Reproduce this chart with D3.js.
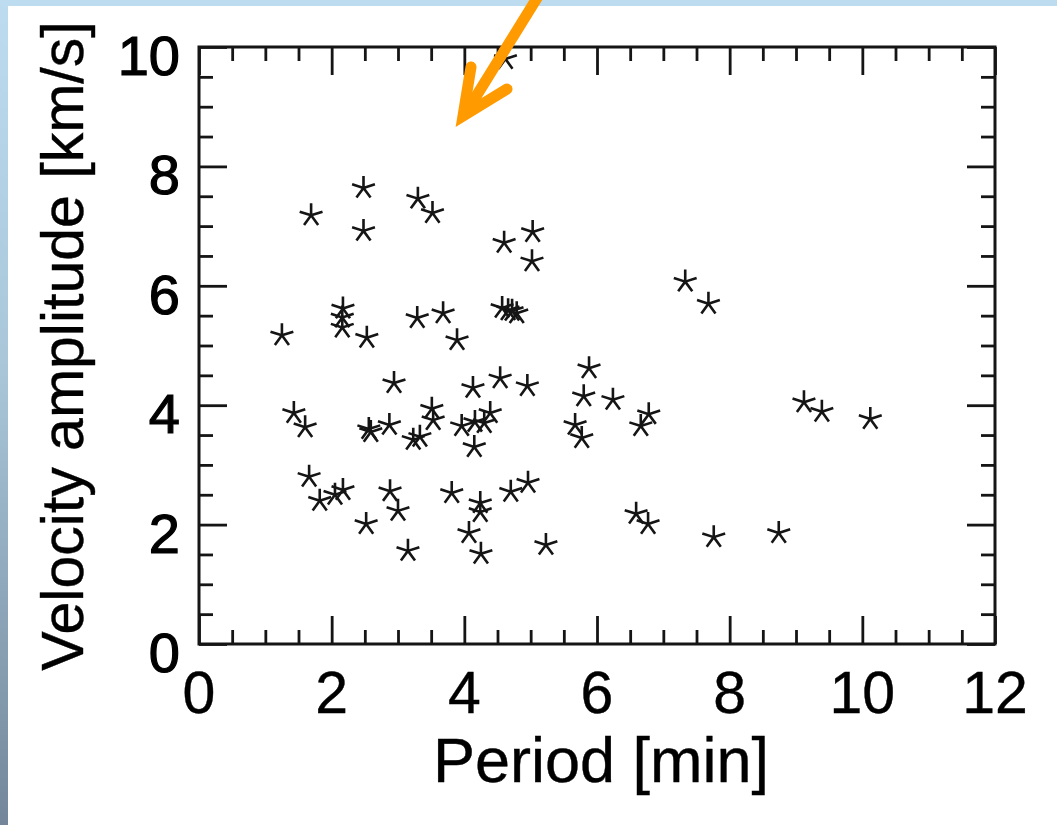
<!DOCTYPE html>
<html>
<head>
<meta charset="utf-8">
<script src="https://cdn.jsdelivr.net/npm/d3@7"></script>
<style>
  body { margin: 0; background: #fff; }
  svg { display: block; }
</style>
</head>
<body>
<div id="vis"></div>
<script>
// Datos: periodo [min] y amplitud de velocidad [km/s]
const periods = [
  1.25, 1.69, 2.48, 2.48, 3.30, 3.52, 4.60, 5.03, 5.02, 7.33, 7.68,
  2.17, 2.16, 2.16, 2.53, 3.29, 3.68, 3.89, 4.57, 4.66, 4.79, 4.72,
  2.94, 4.13, 4.54, 4.95, 5.88, 5.80,
  1.43, 1.60, 2.56, 2.59, 2.87, 3.23, 3.33, 3.51, 3.53, 3.96, 4.16, 4.30, 4.39, 4.15, 5.67, 5.77,
  1.66, 1.82, 2.05, 2.17, 2.88, 3.00, 2.52, 3.15, 3.81, 4.24, 4.24, 4.07, 4.25, 4.70, 4.96, 5.23,
  6.24, 6.66, 6.78, 6.59, 6.77, 7.76, 8.74, 9.12, 9.39, 10.12,
  4.62
];
const amplitudes = [
  5.17, 7.18, 7.64, 6.92, 7.46, 7.22, 6.72, 6.90, 6.41, 6.07, 5.70,
  5.62, 5.47, 5.30, 5.13, 5.46, 5.54, 5.09, 5.63, 5.59, 5.54, 5.58,
  4.37, 4.29, 4.45, 4.32, 4.62, 4.15,
  3.87, 3.63, 3.60, 3.55, 3.67, 3.42, 3.47, 3.94, 3.75, 3.65, 3.72, 3.70, 3.87, 3.30, 3.67, 3.45,
  2.80, 2.40, 2.50, 2.58, 2.56, 2.23, 2.01, 1.56, 2.53, 2.36, 2.21, 1.86, 1.51, 2.55, 2.70, 1.66,
  4.09, 3.65, 3.85, 2.18, 2.01, 1.79, 1.86, 4.05, 3.89, 3.77,
  9.80
];
const xTicks = [0, 2, 4, 6, 8, 10, 12];
const yTicks = [0, 2, 4, 6, 8, 10];
const xLabel = "Period [min]";
const yLabel = "Velocity amplitude [km/s]";

const data = periods.map((p, i) => ({ x: p, y: amplitudes[i] }));

// Tamaños
const WIDTH = 1057;
const HEIGHT = 825;
const plot = { left: 199, right: 995, top: 47, bottom: 644 };
const FONT = "'Liberation Sans', Arial, Helvetica, sans-serif";
const INK = "#151515";

const svg = d3.select("#vis").append("svg")
    .attr("width", WIDTH)
    .attr("height", HEIGHT);

// Fondo: banda celeste arriba y degradado a la izquierda
const defs = svg.append("defs");
const grad = defs.append("linearGradient")
    .attr("id", "sideGrad")
    .attr("x1", 0).attr("y1", 0).attr("x2", 0).attr("y2", 1);
grad.append("stop").attr("offset", "0%").attr("stop-color", "#bddcef");
grad.append("stop").attr("offset", "45%").attr("stop-color", "#a9c6d9");
grad.append("stop").attr("offset", "100%").attr("stop-color", "#74879a");

svg.append("rect").attr("x", 0).attr("y", 0).attr("width", WIDTH).attr("height", 6)
    .attr("fill", "#bddcef");
svg.append("rect").attr("x", 0).attr("y", 0).attr("width", 8).attr("height", HEIGHT)
    .attr("fill", "url(#sideGrad)");

// Escalas
const x = d3.scaleLinear().domain([0, 12]).range([plot.left, plot.right]);
const y = d3.scaleLinear().domain([0, 10]).range([plot.bottom, plot.top]);

const innerW = plot.right - plot.left;
const innerH = plot.bottom - plot.top;

// Ejes con ticks hacia adentro en los cuatro lados (mayores y menores)
function styleAxis(g) {
  g.selectAll(".domain").remove();
  g.selectAll("text").remove();
  g.selectAll(".tick line").attr("stroke", INK).attr("stroke-width", 2.8);
}

const xMinor = d3.range(0, 12.01, 0.5).filter(v => v % 2 !== 0);
const yMinor = d3.range(0, 10.01, 0.5).filter(v => v % 2 !== 0);

svg.append("g").attr("transform", `translate(0,${plot.bottom})`)
    .call(d3.axisTop(x).tickValues(xTicks).tickSize(28)).call(styleAxis);
svg.append("g").attr("transform", `translate(0,${plot.bottom})`)
    .call(d3.axisTop(x).tickValues(xMinor).tickSize(14)).call(styleAxis);
svg.append("g").attr("transform", `translate(0,${plot.top})`)
    .call(d3.axisBottom(x).tickValues(xTicks).tickSize(28)).call(styleAxis);
svg.append("g").attr("transform", `translate(0,${plot.top})`)
    .call(d3.axisBottom(x).tickValues(xMinor).tickSize(14)).call(styleAxis);

svg.append("g").attr("transform", `translate(${plot.left},0)`)
    .call(d3.axisRight(y).tickValues(yTicks).tickSize(28)).call(styleAxis);
svg.append("g").attr("transform", `translate(${plot.left},0)`)
    .call(d3.axisRight(y).tickValues(yMinor).tickSize(14)).call(styleAxis);
svg.append("g").attr("transform", `translate(${plot.right},0)`)
    .call(d3.axisLeft(y).tickValues(yTicks).tickSize(28)).call(styleAxis);
svg.append("g").attr("transform", `translate(${plot.right},0)`)
    .call(d3.axisLeft(y).tickValues(yMinor).tickSize(14)).call(styleAxis);

// Marco
svg.append("rect")
    .attr("x", plot.left).attr("y", plot.top)
    .attr("width", innerW).attr("height", innerH)
    .attr("fill", "none").attr("stroke", INK).attr("stroke-width", 3);

// Etiquetas de los ticks
svg.append("g").selectAll("text")
    .data(xTicks)
    .enter().append("text")
    .attr("x", d => x(d))
    .attr("y", plot.bottom + 69)
    .attr("text-anchor", "middle")
    .style("font-family", FONT)
    .style("font-size", "59px")
    .attr("fill", "#000")
    .attr("stroke", "#000").attr("stroke-width", 0.4)
    .text(d => d);

svg.append("g").selectAll("text")
    .data(yTicks)
    .enter().append("text")
    .attr("x", 180)
    .attr("y", d => y(d) + 28)
    .attr("text-anchor", "end")
    .style("font-family", FONT)
    .style("font-size", "56px")
    .attr("fill", "#000")
    .attr("stroke", "#000").attr("stroke-width", 1.2)
    .text(d => d);

// Títulos de los ejes
svg.append("text")
    .attr("x", 601)
    .attr("y", 782)
    .attr("text-anchor", "middle")
    .style("font-family", FONT)
    .style("font-size", "63px")
    .attr("fill", "#000")
    .attr("stroke", "#000").attr("stroke-width", 0.4)
    .text(xLabel);

svg.append("text")
    .attr("transform", "translate(83,346) rotate(-90)")
    .attr("text-anchor", "middle")
    .style("font-family", FONT)
    .style("font-size", "59px")
    .attr("fill", "#000")
    .attr("stroke", "#000").attr("stroke-width", 0.4)
    .text(yLabel);

// Marcadores en forma de asterisco de cinco brazos
const ARM = 12;
const starPath = d3.range(5).map(k => {
  const a = (-90 + k * 72) * Math.PI / 180;
  return `M0,0L${(ARM * Math.cos(a)).toFixed(2)},${(ARM * Math.sin(a)).toFixed(2)}`;
}).join("");

svg.append("g").selectAll("path")
    .data(data)
    .enter().append("path")
    .attr("transform", d => `translate(${x(d.x)},${y(d.y)})`)
    .attr("d", starPath)
    .attr("fill", "none")
    .attr("stroke", INK)
    .attr("stroke-width", 2.6);

// Flecha naranja de anotación
const arrow = svg.append("g")
    .attr("stroke", "#ff9a00")
    .attr("stroke-width", 11)
    .attr("fill", "none")
    .attr("stroke-linecap", "round");
arrow.append("line")
    .attr("x1", 542).attr("y1", -10)
    .attr("x2", 467).attr("y2", 111);
arrow.append("path")
    .attr("d", "M471,67 L463,116 L507,89")
    .attr("stroke-linejoin", "miter");
</script>
</body>
</html>
